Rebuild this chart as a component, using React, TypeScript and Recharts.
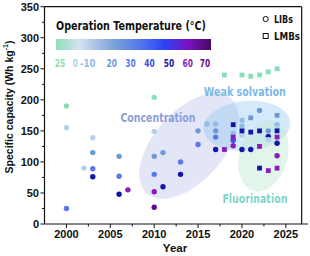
import React from 'react';
import { ScatterChart, Scatter, XAxis, YAxis, ReferenceLine } from 'recharts';

// ---- temperature legend ----
const tempLabels = ['25', '0', '-10', '20', '30', '40', '50', '60', '70'];
const tempColors = ['#86dfb4', '#b4d0ec', '#93bce6', '#6c9ad6', '#5878ec', '#3b50e6', '#1414aa', '#8a1cbc', '#640a8e'];
const tempLabelX = [60, 75.3, 87.8, 111.7, 130.5, 149.5, 169, 187.8, 205];

// ---- LIBs (circles) ----
const libYears = [2000, 2000, 2000, 2002, 2003, 2003, 2003, 2003, 2006, 2006, 2006, 2007, 2010, 2010, 2010, 2010, 2010, 2010, 2011, 2011, 2013, 2013, 2015, 2015, 2016, 2017, 2017, 2017, 2017, 2019, 2019, 2019, 2020, 2020, 2020, 2021, 2022, 2023, 2023, 2024, 2024, 2024, 2024];
const libValues = [190, 155, 25, 90, 139, 115, 89, 76, 109, 77, 48, 55, 204, 149, 109, 80, 52, 27, 115, 60, 100, 80, 150, 128, 161, 161, 150, 140, 120, 146, 135, 126, 158, 143, 120, 120, 183, 150, 141, 160, 154, 130, 110];
const libTemps = ['25', '0', '30', '0', '0', '20', '30', '50', '20', '30', '50', '60', '25', '0', '20', '30', '60', '70', '20', '50', '30', '50', '20', '30', '-10', '-10', '20', '30', '50', '-10', '40', '60', '-10', '0', '50', '50', '20', '20', '50', '-10', '0', '50', '60'];

// ---- LMBs (squares) ----
const lmbYears = [2018, 2018, 2019, 2019, 2020, 2020, 2020, 2021, 2021, 2021, 2022, 2022, 2022, 2022, 2023, 2023, 2023, 2024, 2024, 2024, 2024, 2024];
const lmbValues = [240, 120, 160, 140, 240, 167, 150, 238, 171, 148, 240, 150, 125, 90, 245, 136, 86, 250, 175, 150, 140, 90];
const lmbTemps = ['25', '60', '50', '60', '25', '-10', '50', '25', '20', '50', '25', '50', '60', '50', '25', '0', '60', '25', '20', '50', '60', '60'];

// ---- strategy regions ----
const regionNames = ['Concentration', 'Weak solvation', 'Fluorination'];
const regionYears = [2013.95, 2020.56, 2022.44];
const regionValues = [125.6, 158, 109.5];
const labelYears = [2010.43, 2020.33, 2021.47];
const labelValues = [171.7, 213, 40.3];

const xTicks = [2000, 2002.5, 2005, 2007.5, 2010, 2012.5, 2015, 2017.5, 2020, 2022.5, 2025];
const yTicks = [0, 25, 50, 75, 100, 125, 150, 175, 200, 225, 250, 275, 300, 325, 350];

const colorOf = (t: string) => tempColors[tempLabels.indexOf(t)];

const libData = libYears.map((x, i) => ({ x, y: libValues[i], t: libTemps[i] }));
const lmbData = lmbYears.map((x, i) => ({ x, y: lmbValues[i], t: lmbTemps[i] }));
const regionData = regionNames.map((name, i) => ({ x: regionYears[i], y: regionValues[i], name }));
const labelData = regionNames.map((name, i) => ({ x: labelYears[i], y: labelValues[i], name }));

const regionStyle: Record<string, any> = {
  Concentration: { rx: 63.5, ry: 35, angle: -48.5, fill: '#a9b0e6', op: 0.32, text: '#8c9ed8', tl: 75 },
  'Weak solvation': { rx: 43.5, ry: 25, angle: -5, fill: '#8ec6f0', op: 0.38, text: '#7cb9e8', tl: 82 },
  Fluorination: { rx: 24, ry: 36.4, angle: 16, fill: '#bfe8d0', op: 0.45, text: '#80d6c8', tl: 65 },
};

const FONT = 'Liberation Sans, Arial, sans-serif';
const GEO = '"DejaVu Sans", sans-serif';

const XTick = (p: any) => {
  const { x, y, payload } = p;
  const v = payload.value;
  const major = v % 5 === 0;
  return (
    <g>
      <line x1={x} x2={x} y1={y} y2={y + (major ? 4 : 2.5)} stroke="#111" strokeWidth={1} />
      {major && (
        <text x={x} y={y + 13.5} textAnchor="middle" fontSize={11} fontWeight="bold" fontFamily={FONT} fill="#111">
          {v}
        </text>
      )}
    </g>
  );
};

const YTick = (p: any) => {
  const { x, y, payload } = p;
  const v = payload.value;
  const major = v % 50 === 0;
  return (
    <g>
      <line x1={x - (major ? 4 : 2.5)} x2={x} y1={y} y2={y} stroke="#111" strokeWidth={1} />
      {major && (
        <text x={x - 5.5} y={y + 4} textAnchor="end" fontSize={11} fontWeight="bold" fontFamily={FONT} fill="#111">
          {v}
        </text>
      )}
    </g>
  );
};

const Circle = (p: any) => {
  const { cx, cy, payload } = p;
  return <circle cx={cx} cy={cy} r={2.7} fill={colorOf(payload.t)} />;
};
const Square = (p: any) => {
  const { cx, cy, payload } = p;
  const s = 4.8;
  return <rect x={cx - s / 2} y={cy - s / 2} width={s} height={s} fill={colorOf(payload.t)} />;
};
const Region = (p: any) => {
  const { cx, cy, payload } = p;
  const st = regionStyle[payload.name];
  return (
    <ellipse cx={cx} cy={cy} rx={st.rx} ry={st.ry} transform={`rotate(${st.angle} ${cx} ${cy})`} fill={st.fill} fillOpacity={st.op} />
  );
};
const RegionLabel = (p: any) => {
  const { cx, cy, payload } = p;
  const st = regionStyle[payload.name];
  return (
    <text x={cx} y={cy + 4.3} textAnchor="middle" fontSize={12} fontWeight="bold" fontFamily={GEO} fill={st.text}
      textLength={st.tl} lengthAdjust="spacingAndGlyphs">
      {payload.name}
    </text>
  );
};

export default function App() {
  return (
    <div style={{ position: 'absolute', left: 0, top: 0, width: 310, height: 256, background: '#fff' }}>
      <ScatterChart width={310} height={256} margin={{ top: 6.7, right: 2.2, left: 0, bottom: 0 }}>
        <XAxis type="number" dataKey="x" domain={[1997.5, 2027.5]} ticks={xTicks} interval={0} tick={<XTick />}
          tickSize={0} tickMargin={0} tickLine={false} axisLine={{ stroke: '#111', strokeWidth: 1.2 }} height={32} allowDataOverflow />
        <YAxis type="number" dataKey="y" domain={[0, 350]} ticks={yTicks} interval={0} tick={<YTick />}
          tickSize={0} tickMargin={0} tickLine={false} axisLine={{ stroke: '#111', strokeWidth: 1.2 }} width={44.5} allowDataOverflow />
        <ReferenceLine segment={[{ x: 1997.5, y: 350 }, { x: 2026.8, y: 350 }]} stroke="#111" strokeWidth={1.2} ifOverflow="visible" />
        <ReferenceLine segment={[{ x: 2026.8, y: 350 }, { x: 2026.8, y: 0 }]} stroke="#111" strokeWidth={1.2} ifOverflow="visible" />
        <Scatter name="regions" data={regionData} shape={<Region />} isAnimationActive={false} />
        <Scatter name="labels" data={labelData} shape={<RegionLabel />} isAnimationActive={false} />
        <Scatter name="LIBs" data={libData} shape={<Circle />} isAnimationActive={false} />
        <Scatter name="LMBs" data={lmbData} shape={<Square />} isAnimationActive={false} />
      </ScatterChart>
      <svg width={310} height={256} style={{ position: 'absolute', left: 0, top: 0, pointerEvents: 'none' }}>
        <defs>
          <linearGradient id="tempGrad" x1="0" x2="1" y1="0" y2="0">
            <stop offset="0" stopColor="#8ee0b8" />
            <stop offset="0.15" stopColor="#d3e2f2" />
            <stop offset="0.38" stopColor="#7aa0d8" />
            <stop offset="0.58" stopColor="#4a6cf0" />
            <stop offset="0.7" stopColor="#2a44f4" />
            <stop offset="0.85" stopColor="#7a12c0" />
            <stop offset="1" stopColor="#48085e" />
          </linearGradient>
        </defs>
        <text x={56} y={30} fontSize={11.5} fontWeight="bold" fontFamily={GEO} fill="#111" textLength={150} lengthAdjust="spacingAndGlyphs">
          Operation Temperature (°C)
        </text>
        <rect x={56} y={39} width={155} height={11} fill="url(#tempGrad)" />
        {tempLabels.map((t, i) => (
          <text key={t} x={tempLabelX[i]} y={66.5} textAnchor="middle" fontSize={10} fontWeight="bold" fontFamily={GEO} fill={tempColors[i]}
            textLength={t.length * 5.2} lengthAdjust="spacingAndGlyphs">
            {t}
          </text>
        ))}
        <circle cx={265.7} cy={19} r={2.6} fill="none" stroke="#111" strokeWidth={1} />
        <text x={274} y={22.8} fontSize={10.5} fontWeight="bold" fontFamily={GEO} fill="#111" textLength={19} lengthAdjust="spacingAndGlyphs">LIBs</text>
        <rect x={263.2} y={33.5} width={5} height={5} fill="none" stroke="#111" strokeWidth={1} />
        <text x={274} y={39.8} fontSize={10.5} fontWeight="bold" fontFamily={GEO} fill="#111" textLength={26} lengthAdjust="spacingAndGlyphs">LMBs</text>
        <text transform="rotate(-90 9 107)" x={9} y={107} textAnchor="middle" dominantBaseline="central" fontSize={10.5}
          fontWeight="bold" fontFamily={FONT} fill="#111">
          Specific capacity (Wh kg<tspan dy={-4} fontSize={7}>-1</tspan><tspan dy={4}>)</tspan>
        </text>
        <text x={175} y={252} textAnchor="middle" fontSize={11.5} fontWeight="bold" fontFamily={FONT} fill="#111">Year</text>
      </svg>
    </div>
  );
}
